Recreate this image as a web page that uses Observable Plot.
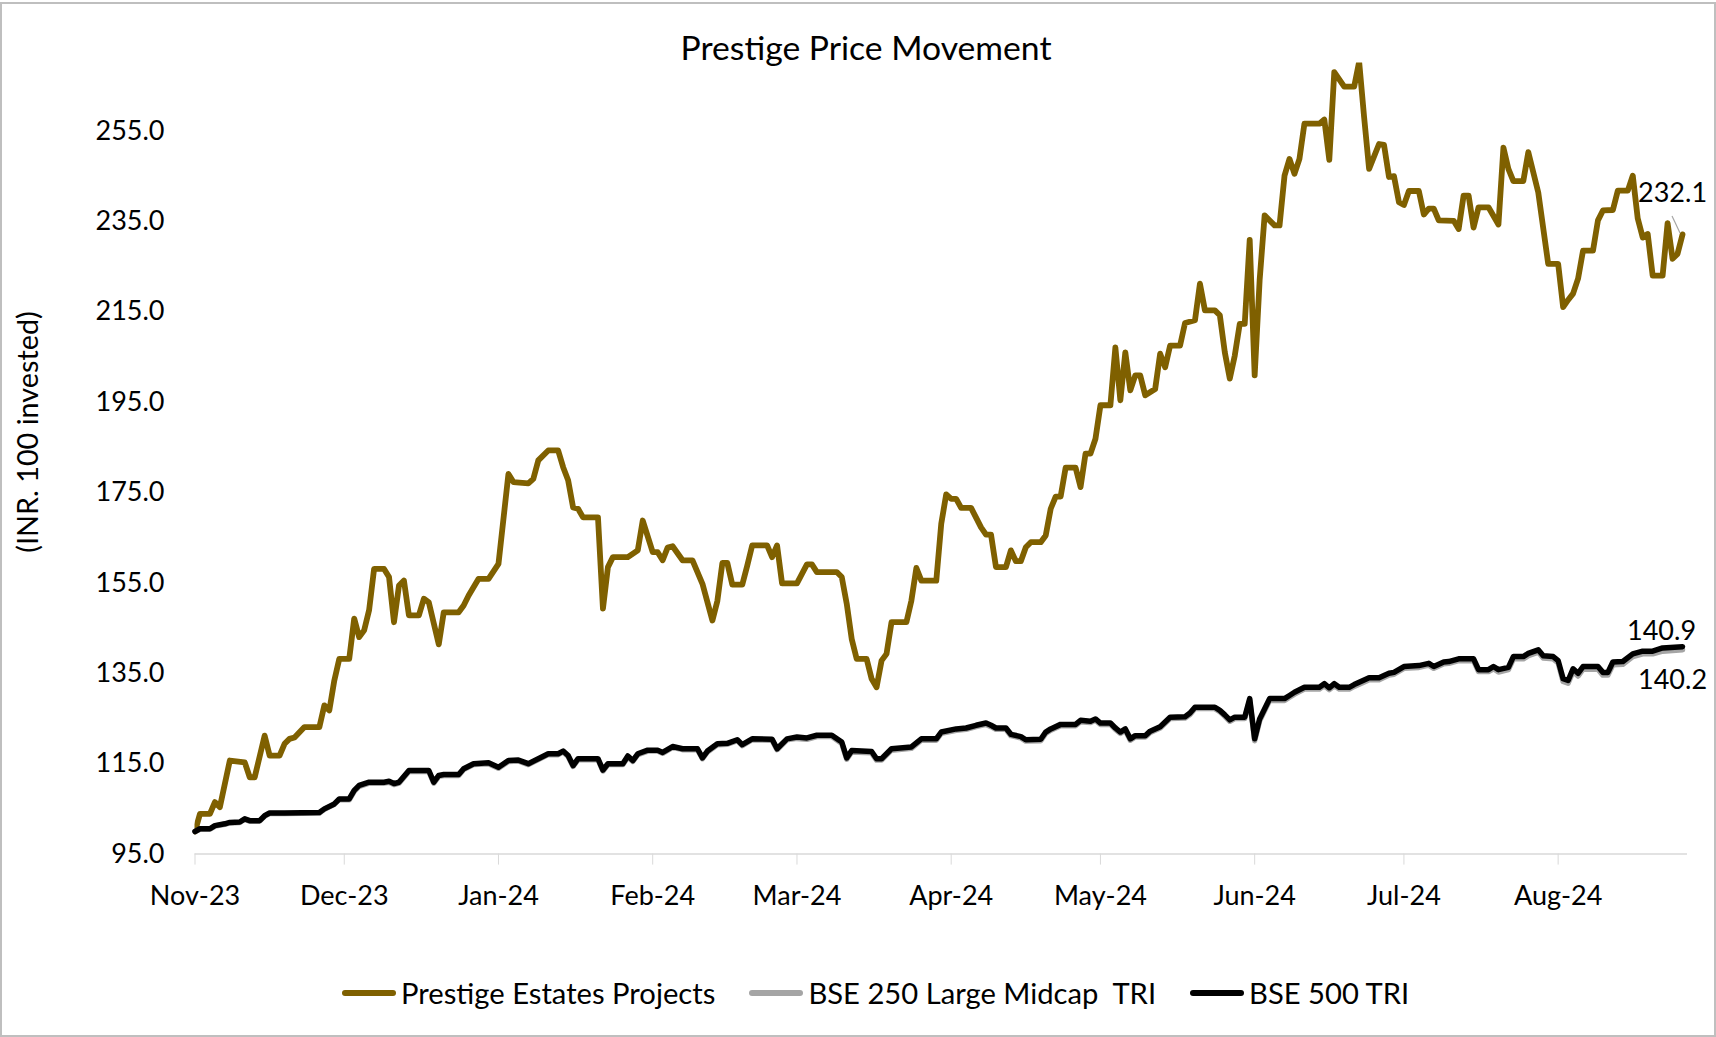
<!DOCTYPE html>
<html>
<head>
<meta charset="utf-8">
<script src="https://cdn.jsdelivr.net/npm/d3@7"></script>
<script src="https://cdn.jsdelivr.net/npm/@observablehq/plot@0.6"></script>
<style>
  html, body { margin: 0; padding: 0; background: #fff; }
  #frame { position: relative; width: 1716px; height: 1037px; overflow: hidden; font-family: Lato, "Open Sans", sans-serif; color: #000; }
  #border { position: absolute; left: 0; top: 2px; width: 1712px; height: 1031px; border: 2px solid #bfbfbf; }
  #title { position: absolute; left: 8px; top: 30px; width: 1716px; text-align: center; font-size: 33.7px; line-height: 34px; white-space: nowrap; }
  #ytitle { position: absolute; left: 27px; top: 432px; width: 0; height: 0; }
  #ytitle span { position: absolute; transform: translate(-50%, -50%) rotate(-90deg); white-space: nowrap; font-size: 28.8px; line-height: 29px; }
  #chart { position: absolute; left: 0; top: 40px; }
  #legend { position: absolute; left: 342px; top: 976px; display: flex; align-items: center; font-size: 29.2px; line-height: 34px; white-space: nowrap; }
  .item { display: flex; align-items: center; margin-right: 34px; }
  .sw { width: 54px; height: 5.5px; border-radius: 3px; margin-right: 5px; }
</style>
</head>
<body>
<div id="frame">
  <div id="border"></div>
  <div id="title">Prestige Price Movement</div>
  <div id="ytitle"><span>(INR. 100 invested)</span></div>
  <div id="chart"></div>
  <div id="legend"></div>
</div>
<script>
// ---------- data ----------
const seriesNames = ["Prestige Estates Projects", "BSE 250 Large Midcap  TRI", "BSE 500 TRI"];
const seriesColors = ["#7f6000", "#a5a5a5", "#000000"];

const monthTicks = ["2023-11-01","2023-12-01","2024-01-01","2024-02-01","2024-03-01","2024-04-01",
                    "2024-05-01","2024-06-01","2024-07-01","2024-08-01"];
const yTicks = [95, 115, 135, 155, 175, 195, 215, 235, 255];

const prestigeDates = [
 "2023-11-01","2023-11-02","2023-11-04","2023-11-05","2023-11-06","2023-11-08","2023-11-11","2023-11-12","2023-11-13","2023-11-15",
 "2023-11-16","2023-11-18","2023-11-19","2023-11-20","2023-11-21","2023-11-23","2023-11-26","2023-11-27","2023-11-28","2023-11-29",
 "2023-11-30","2023-12-02","2023-12-03","2023-12-04","2023-12-05","2023-12-06","2023-12-07","2023-12-09","2023-12-10","2023-12-11",
 "2023-12-12","2023-12-13","2023-12-14","2023-12-16","2023-12-17","2023-12-18","2023-12-20","2023-12-21","2023-12-24","2023-12-25",
 "2023-12-26","2023-12-28","2023-12-30","2024-01-01","2024-01-03","2024-01-04","2024-01-07","2024-01-08","2024-01-09","2024-01-11",
 "2024-01-13","2024-01-14","2024-01-15","2024-01-16","2024-01-17","2024-01-18","2024-01-21","2024-01-22","2024-01-23","2024-01-24",
 "2024-01-27","2024-01-29","2024-01-30","2024-02-01","2024-02-02","2024-02-03","2024-02-04","2024-02-05","2024-02-07","2024-02-09",
 "2024-02-11","2024-02-13","2024-02-14","2024-02-15","2024-02-16","2024-02-17","2024-02-19","2024-02-20","2024-02-21","2024-02-24",
 "2024-02-25","2024-02-26","2024-02-27","2024-03-01","2024-03-03","2024-03-04","2024-03-05","2024-03-09","2024-03-10","2024-03-11",
 "2024-03-12","2024-03-13","2024-03-15","2024-03-16","2024-03-17","2024-03-18","2024-03-19","2024-03-20","2024-03-23","2024-03-24",
 "2024-03-25","2024-03-26","2024-03-29","2024-03-30","2024-03-31","2024-04-01","2024-04-02","2024-04-03","2024-04-05","2024-04-07",
 "2024-04-08","2024-04-09","2024-04-10","2024-04-12","2024-04-13","2024-04-14","2024-04-15","2024-04-16","2024-04-17","2024-04-19",
 "2024-04-20","2024-04-21","2024-04-22","2024-04-23","2024-04-24","2024-04-26","2024-04-27","2024-04-28","2024-04-29","2024-04-30",
 "2024-05-01","2024-05-03","2024-05-04","2024-05-05","2024-05-06","2024-05-07","2024-05-08","2024-05-09","2024-05-10","2024-05-12",
 "2024-05-13","2024-05-14","2024-05-15","2024-05-17","2024-05-18","2024-05-20","2024-05-21","2024-05-22","2024-05-24","2024-05-25",
 "2024-05-26","2024-05-27","2024-05-28","2024-05-29","2024-05-30","2024-05-31","2024-06-01","2024-06-02","2024-06-03","2024-06-05",
 "2024-06-06","2024-06-07","2024-06-08","2024-06-09","2024-06-10","2024-06-11","2024-06-14","2024-06-15","2024-06-16","2024-06-17",
 "2024-06-19","2024-06-21","2024-06-22","2024-06-23","2024-06-24","2024-06-26","2024-06-27","2024-06-28","2024-06-29","2024-06-30",
 "2024-07-01","2024-07-02","2024-07-04","2024-07-05","2024-07-06","2024-07-07","2024-07-08","2024-07-11","2024-07-12","2024-07-13",
 "2024-07-14","2024-07-15","2024-07-16","2024-07-18","2024-07-20","2024-07-21","2024-07-22","2024-07-23","2024-07-25","2024-07-26",
 "2024-07-28","2024-07-30","2024-08-01","2024-08-02","2024-08-03","2024-08-04","2024-08-05","2024-08-06","2024-08-08","2024-08-09",
 "2024-08-10","2024-08-12","2024-08-13","2024-08-15","2024-08-16","2024-08-17","2024-08-18","2024-08-19","2024-08-20","2024-08-22",
 "2024-08-23","2024-08-24","2024-08-25","2024-08-26"
];
const prestigeValues = [
 100.0,103.9,103.9,106.5,105.4,115.7,115.3,112.0,112.0,121.2,
 116.8,116.8,119.4,120.5,120.8,123.1,123.1,127.9,126.8,133.4,
 138.2,138.2,147.1,143.0,144.5,149.0,158.1,158.1,156.3,146.3,
 154.4,155.5,147.8,147.8,151.5,150.7,141.4,148.5,148.5,150.0,
 152.2,155.9,155.9,159.2,179.1,177.3,177.0,178.0,182.1,184.3,
 184.3,180.6,177.7,171.7,171.4,169.5,169.5,149.3,158.5,160.7,
 160.7,162.2,168.8,161.8,161.8,160.0,162.8,163.1,160.0,160.0,
 154.8,146.7,151.0,159.4,159.4,154.6,154.6,158.8,163.3,163.3,
 160.7,163.3,154.9,154.9,159.1,159.1,157.4,157.4,156.3,150.4,
 142.6,138.2,138.2,133.8,131.9,137.8,139.3,146.3,146.3,151.1,
 158.3,155.5,155.5,168.1,174.6,173.6,173.6,171.6,171.6,167.3,
 165.7,165.7,158.5,158.5,162.2,159.8,159.8,162.9,164.0,164.0,
 165.5,171.4,174.1,174.1,180.5,180.5,176.2,183.6,183.6,186.9,
 194.3,194.3,207.1,195.4,206.0,197.6,200.9,200.9,196.5,197.9,
 205.7,202.7,207.5,207.5,212.5,213.1,221.2,215.3,215.3,214.2,
 206.0,200.2,205.3,212.3,212.3,230.9,200.9,222.0,236.3,234.1,
 234.1,245.1,248.8,245.5,248.8,256.6,256.6,257.5,248.6,268.0,
 264.8,264.8,270.3,258.0,246.6,252.1,251.9,244.8,245.0,239.2,
 238.6,241.7,241.7,236.5,237.8,237.8,235.2,235.1,233.3,240.7,
 240.7,233.6,238.1,238.1,234.3,251.3,246.6,243.9,243.9,250.3,
 241.4,225.6,225.6,216.0,217.6,219.0,222.3,228.5,228.5,235.2,
 237.4,237.5,241.8,241.8,245.1,235.6,231.4,232.2,223.0,223.0,
 234.6,226.7,227.8,232.1
];

const indexDates = [
 "2023-11-01","2023-11-02","2023-11-04","2023-11-05","2023-11-07","2023-11-08","2023-11-10","2023-11-11","2023-11-12","2023-11-14",
 "2023-11-15","2023-11-16","2023-11-19","2023-11-26","2023-11-27","2023-11-29","2023-11-30","2023-12-02","2023-12-03","2023-12-04",
 "2023-12-06","2023-12-09","2023-12-10","2023-12-11","2023-12-12","2023-12-14","2023-12-18","2023-12-19","2023-12-20","2023-12-21",
 "2023-12-24","2023-12-25","2023-12-27","2023-12-30","2024-01-01","2024-01-03","2024-01-05","2024-01-07","2024-01-09","2024-01-11",
 "2024-01-13","2024-01-14","2024-01-15","2024-01-16","2024-01-17","2024-01-21","2024-01-22","2024-01-23","2024-01-26","2024-01-27",
 "2024-01-28","2024-01-29","2024-01-31","2024-02-02","2024-02-03","2024-02-05","2024-02-07","2024-02-10","2024-02-11","2024-02-12",
 "2024-02-14","2024-02-16","2024-02-18","2024-02-19","2024-02-21","2024-02-25","2024-02-26","2024-02-28","2024-03-01","2024-03-03",
 "2024-03-05","2024-03-08","2024-03-10","2024-03-11","2024-03-12","2024-03-16","2024-03-17","2024-03-18","2024-03-20","2024-03-24",
 "2024-03-26","2024-03-29","2024-03-30","2024-04-02","2024-04-04","2024-04-06","2024-04-08","2024-04-09","2024-04-10","2024-04-12",
 "2024-04-13","2024-04-15","2024-04-16","2024-04-19","2024-04-20","2024-04-21","2024-04-23","2024-04-26","2024-04-27","2024-04-29",
 "2024-04-30","2024-05-01","2024-05-03","2024-05-04","2024-05-05","2024-05-06","2024-05-07","2024-05-08","2024-05-10","2024-05-11",
 "2024-05-13","2024-05-15","2024-05-18","2024-05-19","2024-05-20","2024-05-24","2024-05-25","2024-05-26","2024-05-27","2024-05-28",
 "2024-05-30","2024-05-31","2024-06-01","2024-06-02","2024-06-04","2024-06-07","2024-06-08","2024-06-09","2024-06-11","2024-06-14",
 "2024-06-15","2024-06-16","2024-06-17","2024-06-18","2024-06-20","2024-06-21","2024-06-24","2024-06-26","2024-06-28","2024-06-29",
 "2024-07-01","2024-07-04","2024-07-06","2024-07-07","2024-07-09","2024-07-10","2024-07-12","2024-07-15","2024-07-16","2024-07-18",
 "2024-07-19","2024-07-20","2024-07-22","2024-07-23","2024-07-25","2024-07-26","2024-07-28","2024-07-29","2024-07-31","2024-08-01",
 "2024-08-02","2024-08-03","2024-08-04","2024-08-05","2024-08-06","2024-08-09","2024-08-10","2024-08-11","2024-08-12","2024-08-14",
 "2024-08-16","2024-08-18","2024-08-20","2024-08-22","2024-08-26"
];
const bse250Values = [
 100.0,100.5,100.5,101.2,101.6,101.9,102.0,102.7,102.3,102.3,
 103.4,104.0,104.0,104.1,104.9,106.0,107.1,107.0,108.9,110.0,
 110.7,110.7,110.9,110.4,110.7,113.3,113.3,110.7,112.2,112.4,
 112.4,113.7,114.8,115.0,114.0,115.5,115.6,114.8,115.9,117.0,
 117.0,117.6,116.6,114.4,115.9,115.9,113.4,114.8,114.8,116.5,
 115.5,117.0,117.8,117.8,117.3,118.6,118.1,118.1,116.1,117.6,
 119.2,119.3,120.1,119.0,120.3,120.2,118.1,120.3,120.6,120.4,
 121.0,121.0,119.5,116.0,117.6,117.4,115.8,115.8,118.0,118.4,
 120.2,120.2,121.7,122.4,122.6,123.2,123.7,123.2,122.6,122.6,
 121.2,120.7,120.0,120.1,121.7,122.4,123.4,123.4,124.3,124.1,
 124.6,123.7,123.7,122.6,121.7,122.4,120.2,120.9,120.9,121.9,
 122.9,125.0,125.1,125.9,127.2,127.2,126.5,125.5,124.4,125.0,
 125.0,129.0,120.1,124.5,129.0,129.0,129.7,130.4,131.5,131.5,
 132.3,131.4,132.3,131.5,131.5,132.1,133.6,133.6,134.6,134.8,
 136.1,136.3,136.8,136.1,137.1,137.2,137.8,137.8,135.4,135.4,
 136.0,135.3,135.8,138.2,138.2,138.9,139.7,138.4,138.2,137.3,
 133.2,132.8,135.4,134.4,135.9,135.9,134.6,134.6,136.9,137.0,
 138.7,139.3,139.3,139.9,140.2
];
const bse500Values = [
 100.0,100.6,100.6,101.3,101.7,102.0,102.1,102.8,102.4,102.4,
 103.5,104.1,104.1,104.2,105.0,106.1,107.2,107.2,109.1,110.2,
 110.9,110.9,111.1,110.6,110.9,113.5,113.5,110.9,112.4,112.6,
 112.6,113.9,115.0,115.2,114.2,115.7,115.8,115.0,116.1,117.2,
 117.2,117.8,116.8,114.6,116.1,116.1,113.6,115.0,115.0,116.7,
 115.7,117.2,118.0,118.0,117.5,118.8,118.3,118.3,116.3,117.8,
 119.4,119.5,120.3,119.2,120.5,120.4,118.3,120.5,120.9,120.7,
 121.3,121.3,119.8,116.3,117.9,117.7,116.1,116.1,118.3,118.7,
 120.5,120.5,122.0,122.7,122.9,123.5,124.0,123.5,122.9,122.9,
 121.5,121.0,120.3,120.4,122.0,122.7,123.7,123.7,124.6,124.4,
 124.9,124.0,124.0,122.9,122.0,122.7,120.5,121.2,121.2,122.2,
 123.2,125.3,125.4,126.2,127.5,127.5,126.8,125.8,124.7,125.3,
 125.3,129.4,120.5,124.9,129.4,129.4,130.1,130.8,131.9,131.9,
 132.7,131.8,132.7,131.9,131.9,132.5,134.0,134.0,135.0,135.2,
 136.5,136.7,137.2,136.5,137.5,137.6,138.2,138.2,135.8,135.8,
 136.5,135.8,136.3,138.7,138.7,139.4,140.2,138.9,138.7,137.8,
 133.8,133.4,136.0,135.0,136.5,136.5,135.2,135.2,137.5,137.6,
 139.3,139.9,139.9,140.6,140.9
];

// ---------- build tables ----------
const toRows = (dates, values) => dates.map((d, i) => ({date: new Date(d), value: values[i]}));
const prestige = toRows(prestigeDates, prestigeValues);
const bse250 = toRows(indexDates, bse250Values);
const bse500 = toRows(indexDates, bse500Values);
const last = arr => [arr[arr.length - 1]];

// leader line from the "232.1" label to the last Prestige point (positioned through the scales)
function leader(index, scales) {
  const p = prestige[prestige.length - 1];
  const px = scales.x(p.date), py = scales.y(p.value);
  const line = d3.create("svg:line")
    .attr("x1", px - 10).attr("y1", py - 18)
    .attr("x2", px - 2).attr("y2", py - 1)
    .attr("stroke", "#a6a6a6").attr("stroke-width", 1.2);
  return line.node();
}

const chart = Plot.plot({
  width: 1716,
  height: 880,
  marginLeft: 194.5,
  marginRight: 29,
  marginTop: 22.6,
  marginBottom: 66.4,
  style: {fontFamily: "Lato, 'Open Sans', sans-serif", fontSize: "27px", color: "#000", background: "transparent", overflow: "visible"},
  x: {type: "utc", domain: [new Date("2023-11-01"), new Date("2024-08-27")]},
  y: {domain: [95, 270]},
  marks: [
    Plot.ruleY([95], {stroke: "#d9d9d9", strokeWidth: 1.5}),
    Plot.axisX(monthTicks.map(d => new Date(d)), {
      tickSize: 11, tickPadding: 21, stroke: "#d9d9d9", fill: "#000",
      tickFormat: d3.utcFormat("%b-%y"), label: null
    }),
    Plot.axisY(yTicks, {tickSize: 0, tickPadding: 30.5, fill: "#000", tickFormat: d => d.toFixed(1), label: null}),
    Plot.line(prestige, {x: "date", y: "value", stroke: seriesColors[0], strokeWidth: 5.8, clip: true}),
    Plot.line(bse250, {x: "date", y: "value", stroke: seriesColors[1], strokeWidth: 5.5}),
    Plot.line(bse500, {x: "date", y: "value", stroke: seriesColors[2], strokeWidth: 5.5}),
    leader,
    Plot.text(last(prestige), {x: "date", y: "value", text: d => d.value.toFixed(1), dx: -10, dy: -41, fill: "#000", fontSize: 27}),
    Plot.text(last(bse500), {x: "date", y: "value", text: d => d.value.toFixed(1), dx: -21, dy: -15, fill: "#000", fontSize: 27}),
    Plot.text(last(bse250), {x: "date", y: "value", text: d => d.value.toFixed(1), dx: -10, dy: 31, fill: "#000", fontSize: 27})
  ]
});
document.getElementById("chart").appendChild(chart);

// legend
const legend = document.getElementById("legend");
seriesNames.forEach((name, i) => {
  const item = document.createElement("div");
  item.className = "item";
  const sw = document.createElement("span");
  sw.className = "sw";
  sw.style.background = seriesColors[i];
  const label = document.createElement("span");
  label.textContent = name;
  label.style.whiteSpace = "pre";
  item.appendChild(sw);
  item.appendChild(label);
  legend.appendChild(item);
});
</script>
</body>
</html>
